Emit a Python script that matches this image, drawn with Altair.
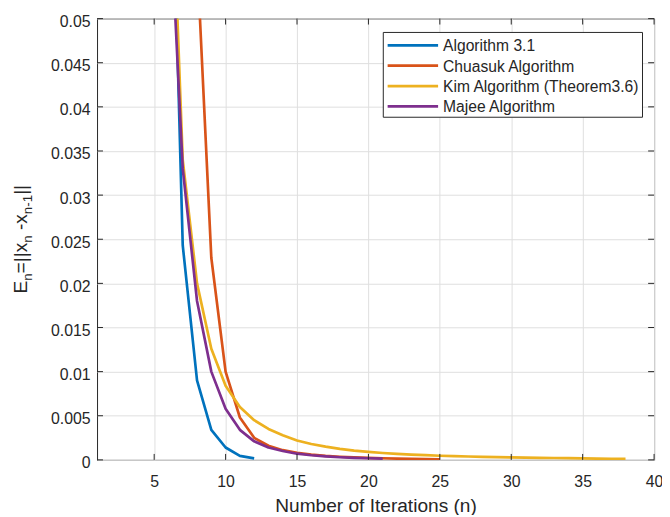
import altair as alt
import pandas as pd

# ---------------- data ----------------
series_names = ["Algorithm 3.1", "Chuasuk Algorithm", "Kim Algorithm (Theorem3.6)", "Majee Algorithm"]
series_colors = ["#0072BD", "#D95319", "#EDB120", "#7E2F8E"]

n_alg31 = [6, 7, 8, 9, 10, 11, 12]
e_alg31 = [0.084, 0.0243, 0.0090, 0.0034, 0.0014, 0.00045, 0.00017]

n_chuasuk = list(range(8, 26))
e_chuasuk = [0.057, 0.0229, 0.0100, 0.0048, 0.0025, 0.0016, 0.0011, 0.0008, 0.0006,
             0.00045, 0.00035, 0.00028, 0.00022, 0.00018, 0.00014, 0.00011, 0.00009, 0.00007]

n_kim = list(range(6, 39))
e_kim = [0.077, 0.034, 0.020, 0.0126, 0.0084, 0.0060, 0.0045, 0.0035, 0.0028, 0.0022,
         0.0018, 0.0015, 0.00125, 0.00105, 0.0009, 0.00078, 0.00068, 0.0006, 0.00053,
         0.00047, 0.00042, 0.00038, 0.00034, 0.00031, 0.00028, 0.00025, 0.00023,
         0.00021, 0.00019, 0.00017, 0.00015, 0.00013, 0.00012]

n_majee = list(range(6, 22))
e_majee = [0.066, 0.033, 0.018, 0.0100, 0.0058, 0.0034, 0.0021, 0.0014, 0.0010, 0.0007,
           0.00052, 0.0004, 0.0003, 0.00023, 0.00018, 0.00014]

x_ticks = [5, 10, 15, 20, 25, 30, 35, 40]
y_ticks = [0, 0.005, 0.01, 0.015, 0.02, 0.025, 0.03, 0.035, 0.04, 0.045, 0.05]

x_title = "Number of Iterations (n)"
# y title "E_n=||x_n -x_{n-1}||" as (text, is_subscript) pieces
y_title_parts = [("E", False), ("n", True), ("=||x", False), ("n", True),
                 (" ", False), ("-x", False), ("n-1", True), ("||", False)]

# ---------------- styling ----------------
W, H = 563, 446
FONT = "Liberation Sans"
INK = "#262626"
GRID = "#dfdfdf"
LW = 2.7

xscale = alt.Scale(domain=[1, 40], nice=False, zero=False)
yscale = alt.Scale(domain=[0, 0.05], nice=False, zero=False)

x_axis = alt.Axis(values=x_ticks, title=x_title, labelFontSize=16, labelColor=INK,
                  labelFont=FONT, labelPadding=14, labelFlush=False, labelOverlap=False,
                  domain=False, ticks=False, tickSize=0, grid=True, gridColor=GRID,
                  gridWidth=1, titleFont=FONT, titleFontSize=19.3, titleFontWeight="normal",
                  titleColor=INK, titleY=52, titleBaseline="alphabetic")
y_axis = alt.Axis(values=y_ticks, format="~g", title=None, labelFontSize=16, labelColor=INK,
                  labelFont=FONT, labelPadding=7, labelOffset=3, labelFlush=False,
                  labelOverlap=False, domain=False, ticks=False, tickSize=0, grid=True,
                  gridColor=GRID, gridWidth=1)

layers = []

# data lines (first layer carries the axes)
all_n = [n_alg31, n_chuasuk, n_kim, n_majee]
all_e = [e_alg31, e_chuasuk, e_kim, e_majee]
for i, (name, color, ns, es) in enumerate(zip(series_names, series_colors, all_n, all_e)):
    df = pd.DataFrame({"n": ns, "E": es, "series": name})
    layers.append(alt.Chart(df).mark_line(color=color, strokeWidth=LW, clip=True,
                                          strokeJoin="round").encode(
        x=alt.X("n:Q", scale=xscale, axis=x_axis),
        y=alt.Y("E:Q", scale=yscale, axis=y_axis),
        order="n:Q"))

# inward tick marks on all four sides (MATLAB box style)
xt = pd.DataFrame({"n": x_ticks})
yt = pd.DataFrame({"E": y_ticks})
for y0, y1 in [(H, H - 6), (0, 6)]:
    layers.append(alt.Chart(xt).mark_rule(color=INK, strokeWidth=1).encode(
        x=alt.X("n:Q", scale=xscale, axis=x_axis), y=alt.value(y0), y2=alt.value(y1)))
for x0, x1 in [(0, 6), (W, W - 6)]:
    layers.append(alt.Chart(yt).mark_rule(color=INK, strokeWidth=1).encode(
        y=alt.Y("E:Q", scale=yscale, axis=y_axis), x=alt.value(x0), x2=alt.value(x1)))

# legend box
one = pd.DataFrame({"a": [0]})
layers.append(alt.Chart(one).mark_rect(fill="white", stroke=INK, strokeWidth=1).encode(
    x=alt.value(289.3), x2=alt.value(551.3), y=alt.value(14), y2=alt.value(99.7)))
for i, (name, color) in enumerate(zip(series_names, series_colors)):
    ry = 27.0 + i * 20.6
    layers.append(alt.Chart(one).mark_rule(color=color, strokeWidth=LW).encode(
        x=alt.value(293.7), x2=alt.value(344.7), y=alt.value(ry)))
    layers.append(alt.Chart(one).mark_text(align="left", baseline="middle", font=FONT,
                                           fontSize=15.8, color=INK).encode(
        x=alt.value(349.7), y=alt.value(ry + 1), text=alt.value(name)))

# rotated y title built from pieces (for subscripts)
MAIN, SUB = 19.3, 13.5
cw = {"E": .667, "=": .584, "|": .26, "x": .5, "-": .333, " ": .278, "n": .556, "1": .556}
widths = [sum(cw[c] for c in t) * (SUB if s else MAIN) for t, s in y_title_parts]
total = sum(widths)
pos = H / 2 + total / 2
for (t, s), w in zip(y_title_parts, widths):
    if t.strip():
        layers.append(alt.Chart(one).mark_text(align="left", baseline="alphabetic", angle=270,
                                               font=FONT, fontSize=SUB if s else MAIN,
                                               color=INK).encode(
            x=alt.value(-65.5 if s else -71), y=alt.value(pos), text=alt.value(t)))
    pos -= w

chart = alt.layer(*layers).properties(
    width=W, height=H,
    padding={"left": 90, "top": 8, "right": 8, "bottom": 53},
    autosize=alt.AutoSizeParams(type="none"),
).configure(font=FONT).configure_view(stroke=INK, strokeWidth=1)

chart.save("out.html", embed_options={"renderer": "svg", "actions": False})
